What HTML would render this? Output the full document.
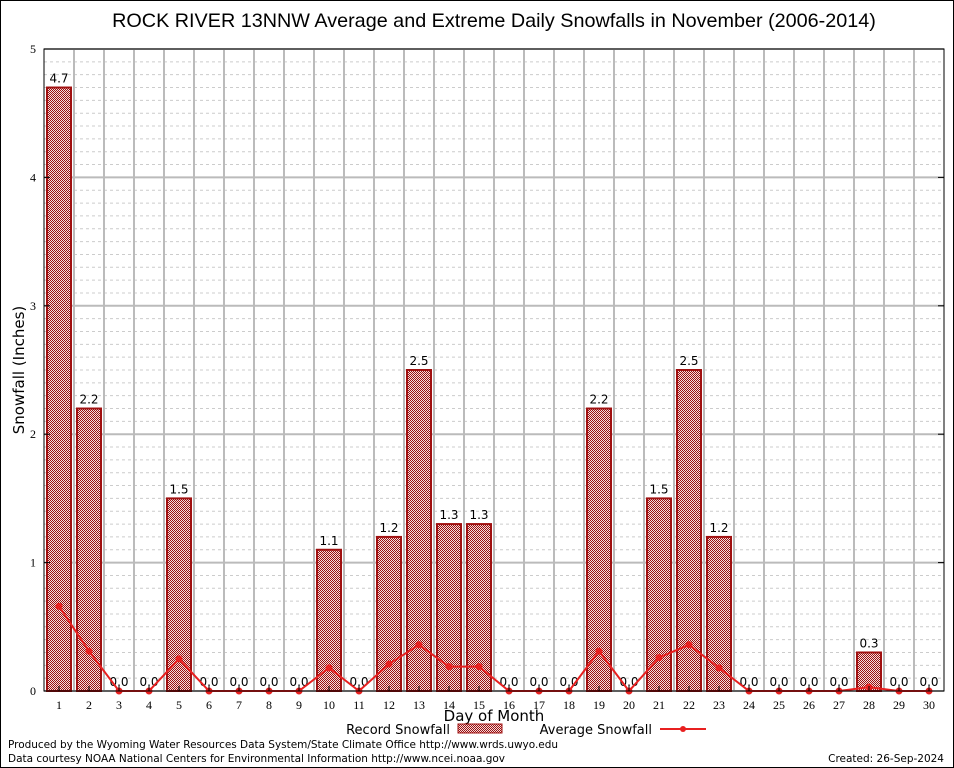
<!DOCTYPE html>
<html><head><meta charset="utf-8"><style>
body{margin:0;background:#fff;}
svg{display:block;font-family:"DejaVu Sans","Liberation Sans",sans-serif;}
</style></head><body>
<svg id="c" width="954" height="768" viewBox="0 0 954 768">
<defs>
<pattern id="chk" width="2" height="2" patternUnits="userSpaceOnUse">
<rect width="2" height="2" fill="#f4dede"/><rect width="1" height="1" fill="#9a0f0f"/><rect x="1" y="1" width="1" height="1" fill="#9a0f0f"/>
</pattern>
</defs>
<rect x="0.5" y="0.5" width="953" height="767" fill="#fff" stroke="#000"/>
<text x="494" y="27" font-size="19.8" text-anchor="middle" font-family="Liberation Sans, sans-serif">ROCK RIVER 13NNW Average and Extreme Daily Snowfalls in November (2006-2014)</text>
<g id="grid"></g>
<g id="bars"></g>
<g id="line"></g>
<rect x="44" y="49" width="900" height="642" fill="none" stroke="#000"/>
<g id="axes"></g>
<text x="24" y="370" font-size="15" text-anchor="middle" transform="rotate(-90 24 370)">Snowfall (Inches)</text>
<text x="494" y="721" font-size="15" text-anchor="middle">Day of Month</text>
<g>
<text x="450" y="734" font-size="13" text-anchor="end">Record Snowfall</text>
<rect x="458" y="724" width="44" height="9" fill="url(#chk)" stroke="#a01010"/>
</g>
<g>
<text x="652" y="734" font-size="13" text-anchor="end">Average Snowfall</text>
<line x1="660" y1="729" x2="706" y2="729" stroke="#e82020" stroke-width="2"/>
<circle cx="683" cy="729" r="3" fill="#e82020"/>
</g>
<text x="8" y="748" font-size="10.5" textLength="550">Produced by the Wyoming Water Resources Data System/State Climate Office http://www.wrds.uwyo.edu</text>
<text x="8" y="762" font-size="10.5" textLength="497">Data courtesy NOAA National Centers for Environmental Information http://www.ncei.noaa.gov</text>
<text x="944" y="762" font-size="10.5" text-anchor="end">Created:  26-Sep-2024</text>
</svg>
<script>
const days=[1,2,3,4,5,6,7,8,9,10,11,12,13,14,15,16,17,18,19,20,21,22,23,24,25,26,27,28,29,30];
const recordValues=[4.7,2.2,0,0,1.5,0,0,0,0,1.1,0,1.2,2.5,1.3,1.3,0,0,0,2.2,0,1.5,2.5,1.2,0,0,0,0,0.3,0,0];
const averageValues=[0.66,0.31,0,0,0.25,0,0,0,0,0.18,0,0.21,0.36,0.19,0.19,0,0,0,0.31,0,0.26,0.36,0.18,0,0,0,0,0.03,0,0];
const yTicks=[0,1,2,3,4,5];
const NS="http://www.w3.org/2000/svg";
const X0=44,X1=944,Y0=691,Y1=49,YMAX=5;
const xs=d=>X0+(d-0.5)*(X1-X0)/days.length;
const ys=v=>Y0-v*(Y0-Y1)/YMAX;
function mk(tag,attrs,parent,txt){const e=document.createElementNS(NS,tag);for(const k in attrs)e.setAttribute(k,attrs[k]);if(txt!==undefined)e.textContent=txt;document.getElementById(parent).appendChild(e);return e;}
for(let i=1;i<YMAX*10;i++){if(i%10===0)continue;const l=mk('line',{x1:X0,x2:X1,y1:ys(i/10),y2:ys(i/10),stroke:'#ccc','stroke-dasharray':'3,3'},'grid');

}
yTicks.forEach(t=>{const l=mk('line',{x1:X0,x2:X1,y1:ys(t),y2:ys(t),stroke:'#bbb','stroke-width':2},'grid');


const tx=mk('text',{x:X0-8,y:ys(t)+4,'font-size':12,'text-anchor':'end','font-family':'Liberation Serif, serif'},'axes',t);


mk('line',{x1:X0,x2:X0+6,y1:ys(t),y2:ys(t),stroke:'#000'},'axes');
mk('line',{x1:X1-6,x2:X1,y1:ys(t),y2:ys(t),stroke:'#000'},'axes');});
for(let d=1;d<days.length;d++){const x=X0+d*(X1-X0)/days.length;const l=mk('line',{x1:x,x2:x,y1:Y1,y2:Y0,stroke:'#bbb','stroke-width':2},'grid');

}
days.forEach((d,i)=>{const x=xs(d);const v=recordValues[i];
if(v>0){const r=mk('rect',{x:x-12,y:ys(v),width:24,height:Y0-ys(v),fill:'url(#chk)',stroke:'#a01010','stroke-width':2},'bars');

}
const lb=mk('text',{x:x,y:ys(v)-5,'font-size':12,'text-anchor':'middle'},'bars',v.toFixed(1));


const tl=mk('text',{x:x,y:Y0+18,'font-size':12,'text-anchor':'middle','font-family':'Liberation Serif, serif'},'axes',d);


mk('line',{x1:x,x2:x,y1:Y0,y2:Y0-5,stroke:'#000'},'axes');});
const pl=mk('polyline',{points:days.map((d,i)=>xs(d)+','+ys(averageValues[i])).join(' '),fill:'none',stroke:'#e82020','stroke-width':2},'line');


days.forEach((d,i)=>{const c=mk('circle',{cx:xs(d),cy:ys(averageValues[i]),r:3.5,fill:'#e82020'},'line');

});
</script>
</body></html>
